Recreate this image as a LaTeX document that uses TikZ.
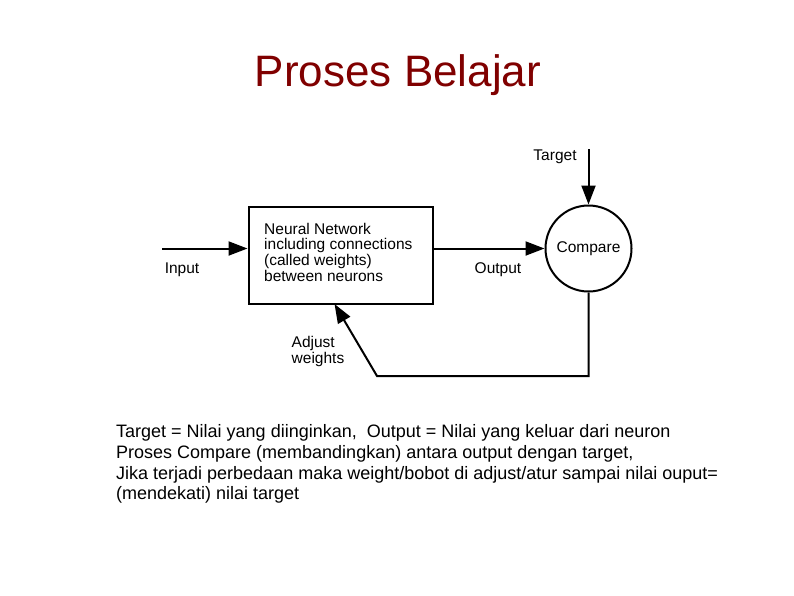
\documentclass[tikz,border=0pt]{standalone}
\usepackage{fontspec}
\setmainfont{Liberation Sans}
\usetikzlibrary{arrows.meta}
\definecolor{titlered}{RGB}{128,0,0}
\begin{document}
\begin{tikzpicture}[x=1pt,y=-1pt,
  lbl/.style={inner sep=0pt, font=\fontsize{15.5}{15.7}\selectfont},
  conn/.style={line width=2pt, -{Triangle[length=19pt,width=14pt]}},
  wire/.style={line width=2pt}]
\path[use as bounding box, fill=white] (0,0) rectangle (794,595);
% title
\node[inner sep=0pt, anchor=base, text=titlered, font=\fontsize{44}{50}\selectfont] (title) at (398,86.7) {Proses Belajar};
% network box
\node[draw, line width=2pt, minimum width=184pt, minimum height=97pt, inner sep=0pt] (nn) at (340.5,255.5) {};
\node[lbl, anchor=north west, align=left] (nntext) at (264,222.7) {Neural Network\\including connections\\(called weights)\\between neurons};
% compare circle
\node[draw, circle, line width=2pt, minimum size=86pt, inner sep=0pt, lbl] (cmp) at (588.5,248.5) {Compare};
% coordinates
\coordinate (in) at (162,248.5);
\coordinate (tgt) at (588.5,149);
\coordinate (fb) at (377,376);
\coordinate (adj) at (334.5,304);
% connectors
\draw[conn] (in) -- (in -| nn.west);
\draw[conn] (cmp.west -| nn.east) -- (cmp.west);
\draw[conn] (tgt) -- (cmp.north);
\draw[conn, line join=miter] (cmp.south) |- (fb) -- (adj);
% labels
\node[lbl] (inlbl) at (182,270) {Input};
\node[lbl] (outlbl) at (498,270) {Output};
\node[lbl] (tgtlbl) at (555,157) {Target};
\node[lbl, anchor=north west, align=left] (adjlbl) at (291.5,336) {Adjust\\weights};
% explanation
\node[inner sep=0pt, anchor=north west, align=left, font=\fontsize{18}{20.7}\selectfont] (expl) at (116,424.5) {Target = Nilai yang diinginkan,\ \ Output = Nilai yang keluar dari neuron\\Proses Compare (membandingkan) antara output dengan target,\\Jika terjadi perbedaan maka weight/bobot di adjust/atur sampai nilai ouput=\\(mendekati) nilai target};
\end{tikzpicture}
\end{document}
